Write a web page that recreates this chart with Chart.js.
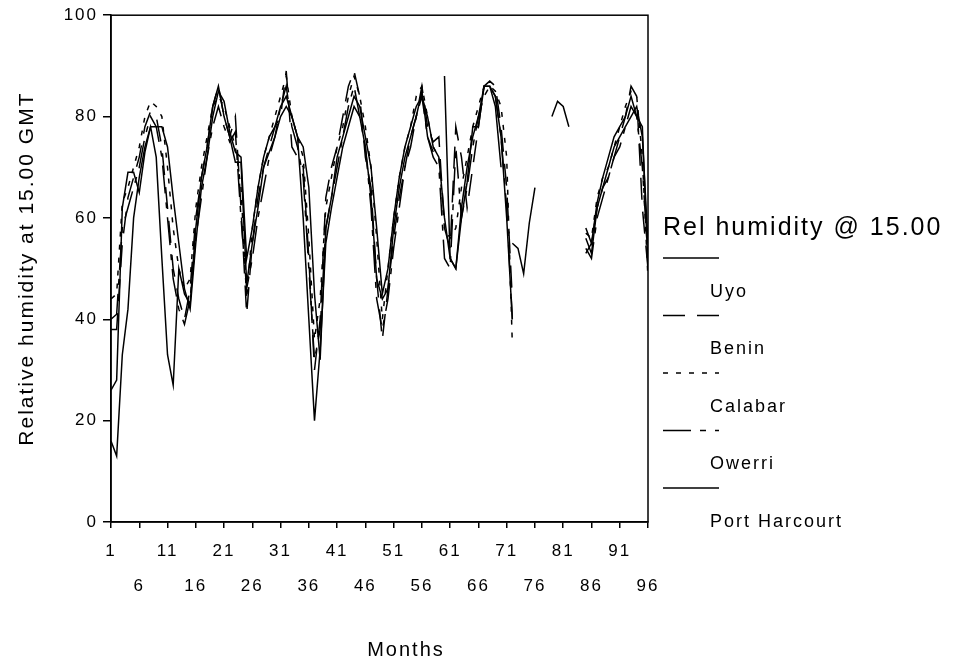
<!DOCTYPE html>
<html>
<head>
<meta charset="utf-8">
<script src="https://cdn.jsdelivr.net/npm/chart.js@4.4.1/dist/chart.umd.min.js"></script>
<style>
  html, body { margin: 0; padding: 0; background: #fff; }
  #wrap { width: 954px; height: 664px; }
</style>
</head>
<body>
<div id="wrap"><canvas id="chart" width="954" height="664"></canvas></div>
<script>
// month index 1..96
var months = [];
for (var m = 1; m <= 96; m++) months.push(m);

var xTicks = [1, 6, 11, 16, 21, 26, 31, 36, 41, 46, 51, 56, 61, 66, 71, 76, 81, 86, 91, 96];
var yTicks = [0, 20, 40, 60, 80, 100];
var seriesNames = ['Uyo', 'Benin', 'Calabar', 'Owerri', 'Port Harcourt'];
var legendTitle = 'Rel humidity @ 15.00';
var xTitle = 'Months';
var yTitle = 'Relative humidity at 15.00 GMT';

var uyo = [
  26, 28, 62, 69, 69, 65, 73, 78, 78, 78, 74, 64,
  55, 46, 42, 55, 66, 72, 80, 85, 83, 77, 73, 72,
  52, 58, 66, 72, 76, 78, 82, 84, 80, 76, 74, 66,
  45, 32, 58, 64, 72, 76, 80, 84, 82, 76, 70, 58,
  45, 50, 60, 68, 74, 78, 82, 84, 80, 74, 72, 60,
  52, 50, 62, 70, 76, 80, 86, 86, 84, 76, 60, 40,
  null, null, null, null, null, null, null, null, null, null, null, null,
  56, 53, 62, 66, 70, 74, 76, 78, 80, 82, 76, 55
];
var benin = [
  38, 38, 55, 64, 68, 72, 78, 81, 80, 74, 62, 50,
  44, 40, 46, 60, 68, 74, 82, 86, 80, 76, 80, 62,
  41, 55, 64, 70, 74, 78, 80, 89, 74, 72, 70, 52,
  30, 40, 64, 70, 74, 80, 86, 89, 84, 72, 66, 48,
  36, 46, 56, 64, 70, 76, 80, 86, 78, 75, 76, 58,
  54, 78, 72, 62, 70, 78, 86, 87, 86, 78, 66, 44,
  null, null, null, null, null, null, null, null, null, null, null, null,
  58, 55, 62, 66, 68, 72, 76, 80, 86, 84, 62, 50
];
var calabar = [
  44, 45, 63, 66, 70, 74, 80, 83, 82, 80, 70, 58,
  50, 46, 48, 62, 70, 76, 82, 84, 82, 78, 74, 66,
  44, 58, 66, 72, 76, 80, 84, 88, 80, 76, 72, 56,
  36, 44, 62, 68, 74, 78, 84, 88, 84, 78, 70, 56,
  40, 50, 60, 68, 74, 78, 84, 86, 80, 74, 72, 58,
  56, 58, 66, 72, 78, 82, 86, 86, 85, 82, 72, 35,
  null, null, null, null, null, null, null, null, null, null, null, null,
  57, 56, 64, 68, 70, 74, 78, 82, 85, 84, 72, 48
];
var owerri = [
  40, 41, 58, 62, 66, 70, 76, 80, 78, 72, 60, 48,
  42, 39, 44, 56, 64, 72, 78, 82, 78, 75, 77, 60,
  46, 52, 60, 66, 72, 76, 82, 86, 78, 74, 68, 50,
  32, 38, 58, 64, 70, 76, 82, 86, 80, 74, 62, 44,
  38, 44, 54, 62, 70, 74, 80, 84, 76, 72, 70, 52,
  50, 74, 60, 66, 74, 80, 84, 86, 84, 76, 62, 40,
  null, null, null, null, null, null, null, null, null, null, null, null,
  54, 52, 60, 64, 68, 72, 74, 78, 82, 80, 70, 52
];
var portHarcourt = [
  16, 13, 33, 42, 60, 68, 74, 78, 72, 52, 33, 27,
  50, 45, 43, 58, 68, 74, 82, 86, 80, 76, 71, 71,
  47, 55, 62, 70, 73, 76, 80, 82, 80, 76, 60, 40,
  20, 34, 55, 62, 68, 74, 78, 82, 80, 74, 64, 48,
  44, 46, 58, 66, 72, 76, 80, 85, 76, 73, null, 88,
  52, 50, 60, 67, 78, 78, 86, 86, 82, 70, null, 55,
  54, 49, 59, 66, null, null, 80, 83, 82, 78, null, null,
  53, 55, 63, 68, 72, 76, 78, 80, 84, 80, 78, 50
];

var fontFamily = '"Liberation Sans", Arial, sans-serif';
var dashes = [[], [22, 12], [5, 8], [28, 9, 6, 9], []];
var values = [uyo, benin, calabar, owerri, portHarcourt];

var datasets = seriesNames.map(function(name, i) {
  return {
    label: name,
    data: values[i],
    borderColor: '#000',
    borderWidth: 1.5,
    borderDash: dashes[i],
    pointRadius: 0,
    tension: 0,
    spanGaps: false,
    fill: false
  };
});

// the original has wide, letter-spaced text
var spacingPlugin = {
  id: 'spacing',
  beforeLayout: function(chart) { chart.ctx.letterSpacing = '2px'; },
  beforeDraw: function(chart) { chart.ctx.letterSpacing = '2px'; }
};

// box round the plot area
var framePlugin = {
  id: 'frame',
  afterDatasetsDraw: function(chart) {
    var a = chart.chartArea, ctx = chart.ctx;
    ctx.save();
    ctx.strokeStyle = '#000';
    ctx.lineWidth = 1.5;
    ctx.strokeRect(a.left, a.top, a.right - a.left, a.bottom - a.top);
    ctx.restore();
  }
};

// legend: line sample on top, label underneath; x title sits right of centre
var legendPlugin = {
  id: 'sideLegend',
  afterDraw: function(chart) {
    var ctx = chart.ctx;
    ctx.save();
    ctx.fillStyle = '#000';
    ctx.textBaseline = 'middle';
    ctx.textAlign = 'center';
    ctx.font = '20px ' + fontFamily;
    ctx.fillText(xTitle, 406, 650);
    ctx.textAlign = 'left';
    ctx.font = '25px ' + fontFamily;
    ctx.fillText(legendTitle, 663, 228);
    chart.data.datasets.forEach(function(ds, i) {
      var y = 258 + i * 57.5;
      ctx.strokeStyle = '#000';
      ctx.lineWidth = 1.5;
      ctx.setLineDash(ds.borderDash);
      ctx.beginPath();
      ctx.moveTo(663, y);
      ctx.lineTo(719, y);
      ctx.stroke();
      ctx.setLineDash([]);
      ctx.font = '18px ' + fontFamily;
      ctx.fillText(ds.label, 710, y + 34);
    });
    ctx.restore();
  }
};

new Chart(document.getElementById('chart'), {
  type: 'line',
  data: { labels: months, datasets: datasets },
  options: {
    responsive: false,
    animation: false,
    events: [],
    layout: { padding: { left: 0, right: 306, top: 14, bottom: 0 } },
    plugins: { legend: { display: false }, tooltip: { enabled: false } },
    scales: {
      x: {
        type: 'linear',
        min: 1,
        max: 96,
        afterBuildTicks: function(s) { s.ticks = xTicks.map(function(v) { return { value: v }; }); },
        afterFit: function(s) { s.height = 142; },
        grid: { display: true, drawOnChartArea: false, drawTicks: true, tickLength: 6, color: '#000', lineWidth: 1.5 },
        border: { display: true, color: '#000', width: 1.5 },
        ticks: {
          color: '#000',
          padding: 6,
          maxRotation: 0,
          autoSkip: false,
          font: { family: fontFamily, size: 17, lineHeight: 2.05 },
          callback: function(v, i) { return i % 2 === 0 ? String(v) : ['', String(v)]; }
        },
        title: { display: false }
      },
      y: {
        min: 0,
        max: 100,
        afterBuildTicks: function(s) { s.ticks = yTicks.map(function(v) { return { value: v }; }); },
        afterFit: function(s) { s.width = 111; },
        grid: { display: true, drawOnChartArea: false, drawTicks: true, tickLength: 8, color: '#000', lineWidth: 1.5 },
        border: { display: true, color: '#000', width: 1.5 },
        ticks: { color: '#000', padding: 5, font: { family: fontFamily, size: 17 } },
        title: { display: true, text: yTitle, color: '#000', font: { family: fontFamily, size: 21 }, padding: { top: 15, bottom: 0 } }
      }
    }
  },
  plugins: [spacingPlugin, framePlugin, legendPlugin]
});
</script>
</body>
</html>
